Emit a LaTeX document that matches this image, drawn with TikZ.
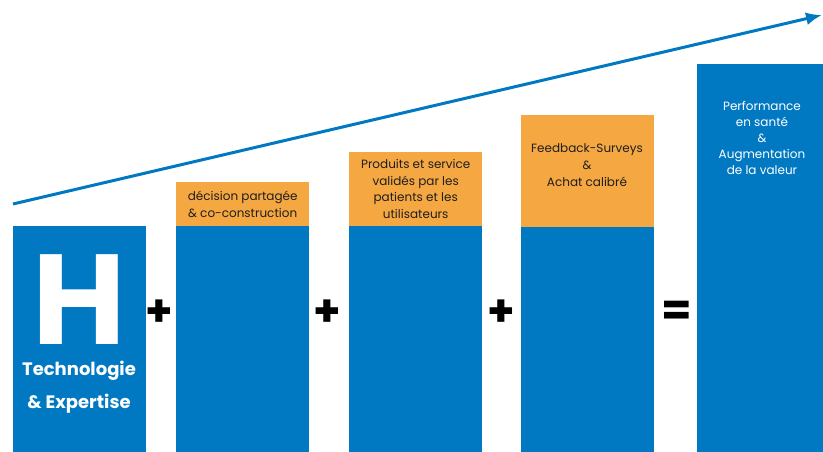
\documentclass[tikz,border=0pt]{standalone}
\usepackage{fontspec}
\setmainfont{Poppins}
\usepackage{tikz}
\usetikzlibrary{arrows.meta}
\definecolor{bar_blue}{HTML}{0079C2}
\definecolor{bar_orange}{HTML}{F5A742}
\definecolor{label_dark}{HTML}{1E1E1E}

\begin{document}
\begin{tikzpicture}[x=1pt, y=-1pt,
    bar/.style={fill=bar_blue, minimum width=133pt, inner sep=0pt, anchor=north west},
    topbox/.style={fill=bar_orange, text=label_dark, minimum width=133pt, inner sep=0pt, anchor=north west, align=center, font=\fontsize{12}{16.5}\selectfont},
    op/.style={font=\fontsize{44}{44}\selectfont\bfseries, inner sep=0pt}]

    \useasboundingbox (0,0) rectangle (823,452);

    % Growth arrow above the bars
    \coordinate (grow_start) at (13,204);
    \coordinate (grow_end) at (822,15);
    \draw[-{Latex[length=16pt, width=13pt]}, line width=3pt, bar_blue] (grow_start) -- (grow_end);

    % First bar: hospital
    \node[bar, minimum height=226pt] (bar1) at (13,226) {};
    \node[white, inner sep=0pt, font=\fontsize{128}{128}\selectfont\bfseries] (hosp) at (79,300) {H};
    \node[white, inner sep=0pt, font=\fontsize{18}{18}\selectfont\bfseries] (techno) at (79,371) {Technologie};
    \node[white, inner sep=0pt, font=\fontsize{18}{18}\selectfont\bfseries] (expert) at (79,404) {\& Expertise};

    % Second bar
    \node[bar, minimum height=226pt] (bar2) at (176,226) {};
    \node[topbox, minimum height=44pt] (top2) at (176,182) {décision partagée\\\& co-construction};

    % Third bar
    \node[bar, minimum height=226pt] (bar3) at (349,226) {};
    \node[topbox, minimum height=74pt] (top3) at (349,152) {Produits et service\\validés par les\\patients et les\\utilisateurs};

    % Fourth bar
    \node[bar, minimum height=225pt] (bar4) at (521,227) {};
    \node[topbox, minimum height=112pt] (top4) at (521,115) {};
    \node[text=label_dark, align=center, font=\fontsize{12}{17}\selectfont] (feedback) at (587,165) {Feedback-Surveys\\\&\\Achat calibré};

    % Result bar
    \node[bar, minimum width=126pt, minimum height=388pt] (bar5) at (697,64) {};
    \node[white, align=center, font=\fontsize{12}{16}\selectfont] (perf) at (762,138) {Performance\\en santé\\\&\\Augmentation\\de la valeur};

    % Operators between the bars
    \node[op] (plus1) at (159,313) {+};
    \node[op] (plus2) at (327,313) {+};
    \node[op] (plus3) at (501,313) {+};
    \node[op] (equals) at (677,313) {=};

\end{tikzpicture}
\end{document}
